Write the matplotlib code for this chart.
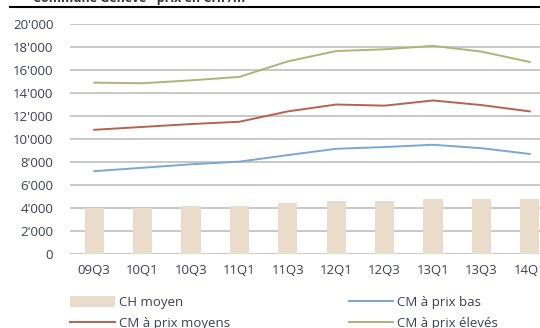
import matplotlib
matplotlib.use("Agg")
import matplotlib.pyplot as plt
from matplotlib.lines import Line2D
from matplotlib.ticker import FuncFormatter
import numpy as np

plt.rcParams['font.family'] = ['Open Sans', 'DejaVu Sans']

categories = ["09Q3", "10Q1", "10Q3", "11Q1", "11Q3", "12Q1", "12Q3", "13Q1", "13Q3", "14Q1"]
ch_moyen = [4000, 4030, 4170, 4200, 4400, 4600, 4630, 4750, 4750, 4750]
cm_prix_bas = [7200, 7500, 7800, 8030, 8600, 9150, 9300, 9500, 9200, 8700]
cm_prix_moyens = [10800, 11050, 11300, 11500, 12400, 13000, 12900, 13350, 12950, 12400]
cm_prix_eleves = [14900, 14850, 15100, 15400, 16750, 17650, 17800, 18100, 17600, 16700]
yticks = [0, 2000, 4000, 6000, 8000, 10000, 12000, 14000, 16000, 18000, 20000]
title = "Commune Genève - prix en CHF/m²"

W, H = 540, 328
fig = plt.figure(figsize=(W / 100, H / 100), dpi=100)
ax = fig.add_axes([70 / W, 74 / H, (554 - 70) / W, 230 / H])

x = np.arange(len(categories))
h_ch = ax.bar(x, ch_moyen, width=0.4, color="#EADCCA", zorder=2)
h_bas, = ax.plot(x, cm_prix_bas, color="#7BA7D3", lw=1.4, zorder=3)
h_moy, = ax.plot(x, cm_prix_moyens, color="#B9614F", lw=1.4, zorder=3)
h_ele, = ax.plot(x, cm_prix_eleves, color="#A9B777", lw=1.4, zorder=3)

ax.set_xlim(-0.5, len(categories) - 0.5)
ax.set_ylim(0, 20000)
ax.set_yticks(yticks)
ax.yaxis.set_major_formatter(FuncFormatter(lambda v, p: "0" if v == 0 else f"{int(v):,}".replace(",", "'")))
ax.set_xticks(x)
ax.set_xticklabels(categories)
ax.grid(axis="y", color="#C8C8C8", lw=1.4, zorder=0)
ax.set_axisbelow(True)
for s in ax.spines.values():
    s.set_visible(False)
ax.tick_params(axis="both", length=0, labelsize=9.5, colors="#3C4150")
ax.tick_params(axis="y", pad=12)
ax.tick_params(axis="x", pad=7)

# col1 = CH moyen, CM à prix moyens; col2 = CM à prix bas, CM à prix élevés
fig.legend([h_ch, h_moy, h_bas, h_ele],
           ["CH moyen", "CM à prix moyens", "CM à prix bas", "CM à prix élevés"],
           ncol=2, loc="upper left", bbox_to_anchor=(58 / W, 1 - 284 / H),
           frameon=False, fontsize=9.5, handlelength=3.4, handleheight=0.9,
           columnspacing=9.0, labelspacing=0.6, handletextpad=0.3,
           labelcolor="#3C4150")

fig.add_artist(Line2D([10 / W, 1.0], [1 - 7 / H, 1 - 7 / H], color="black", lw=1.5))
fig.text(33 / W, 1 - 2 / H, title, fontsize=9, fontweight="bold", color="#333333",
         ha="left", va="baseline")

fig.savefig("out.png", dpi=100)
